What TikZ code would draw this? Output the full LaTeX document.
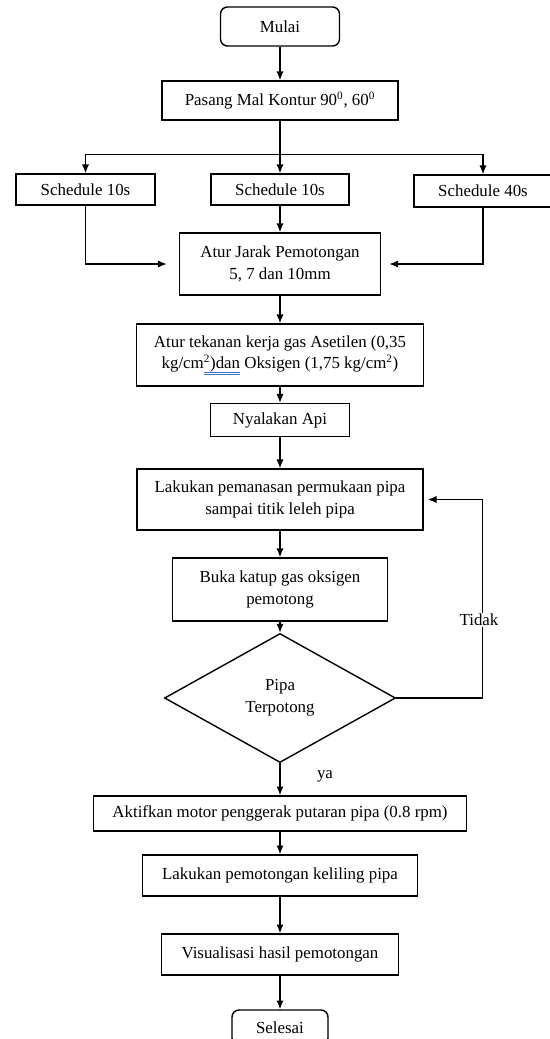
\documentclass[tikz,border=0pt]{standalone}
\usepackage{xcolor}
\usepackage{fontspec}
\setmainfont{Liberation Serif}
\usepackage{tikz}
\usetikzlibrary{arrows.meta,positioning,shapes.geometric}
\definecolor{wordblue}{HTML}{4472C4}
\newsavebox\dblbox
\newcommand\bluedbl[1]{\sbox\dblbox{#1}\rlap{\textcolor{wordblue}{\rule[-0.45ex]{\wd\dblbox}{0.4pt}}}\rlap{\textcolor{wordblue}{\rule[-0.75ex]{\wd\dblbox}{0.4pt}}}\usebox\dblbox}

\begin{document}
\begin{tikzpicture}[x=0.025cm,y=-0.025cm,font=\fontsize{12}{15.5}\selectfont,line width=1pt,
  box/.style={draw,rectangle,align=center,inner sep=2pt},
  term/.style={draw,rectangle,rounded corners=5pt,align=center},
  decide/.style={draw,diamond,align=center,inner sep=0pt},
  arr/.style={-{Latex[length=2.2mm,width=1.8mm]}}]
  \useasboundingbox (0,0) rectangle (550,1039);
  % main column
  \node[term,minimum width=2.975cm,minimum height=0.975cm] (mulai) at (280,26.5) {Mulai};
  \node[box,minimum width=5.9cm,minimum height=0.975cm] (pasang) at (280,100.5) {Pasang Mal Kontur 90\textsuperscript{0}, 60\textsuperscript{0}};
  \node[box,minimum width=3.475cm,minimum height=0.775cm] (sch1) at (85.5,189.5) {Schedule 10s};
  \node[box,minimum width=3.45cm,minimum height=0.775cm] (sch2) at (280,189.5) {Schedule 10s};
  \node[box,minimum width=3.45cm,minimum height=0.8cm] (sch3) at (483,191) {Schedule 40s};
  \node[box,minimum width=5.025cm,minimum height=1.55cm] (jarak) at (280,264) {Atur Jarak Pemotongan\\5, 7 dan 10mm};
  \node[box,minimum width=7.175cm,minimum height=1.55cm] (tekanan) at (280,355) {Atur tekanan kerja gas Asetilen (0,35\\kg/cm\bluedbl{\textsuperscript{2})dan} Oksigen (1,75 kg/cm\textsuperscript{2})};
  \node[box,minimum width=3.475cm,minimum height=0.825cm] (nyala) at (280,420) {Nyalakan Api};
  \node[box,minimum width=7.15cm,minimum height=1.525cm] (panas) at (280,499.5) {Lakukan pemanasan permukaan pipa\\sampai titik leleh pipa};
  \node[box,minimum width=5.375cm,minimum height=1.575cm] (buka) at (280,589.5) {Buka katup gas oksigen\\pemotong};
  \node[decide,minimum width=5.775cm,minimum height=3.225cm] (pipa) at (280,698) {Pipa\\Terpotong};
  \node[box,minimum width=9.325cm,minimum height=0.875cm] (aktif) at (280,813.5) {Aktifkan motor penggerak putaran pipa (0.8 rpm)};
  \node[box,minimum width=6.875cm,minimum height=1.025cm] (potong) at (280,875.5) {Lakukan pemotongan keliling pipa};
  \node[box,minimum width=5.925cm,minimum height=1.025cm] (visual) at (280,954.5) {Visualisasi hasil pemotongan};
  \node[term,minimum width=2.4cm,minimum height=0.875cm] (selesai) at (280,1027.5) {Selesai};
  % connectors
  \draw[arr] (mulai) -- (pasang);
  \draw (pasang.south) -- ++(0,34) coordinate (split);
  \draw[arr] (split) -| (sch1.north);
  \draw[arr] (split) -| (sch3.north);
  \draw[arr] (split) -- (sch2.north);
  \draw[arr,shorten >=0.3cm] (sch1.south) |- (jarak.west);
  \draw[arr,shorten >=0.2cm] (sch3.south) |- (jarak.east);
  \draw[arr] (sch2) -- (jarak);
  \draw[arr] (jarak) -- (tekanan);
  \draw[arr] (tekanan) -- (nyala);
  \draw[arr] (nyala) -- (panas);
  \draw[arr] (panas) -- (buka);
  \draw[arr] (buka) -- (pipa);
  \draw[arr,shorten >=0.1cm] (pipa.east) -- ++(86,0) |- (panas.east);
  \node[fill=white,inner sep=1pt] (tidak) at (479,620) {Tidak};
  \draw[arr] (pipa) -- (aktif);
  \node (ya) at (325,776) {ya};
  \draw[arr] (aktif) -- (potong);
  \draw[arr] (potong) -- (visual);
  \draw[arr] (visual) -- (selesai);
\end{tikzpicture}
\end{document}
